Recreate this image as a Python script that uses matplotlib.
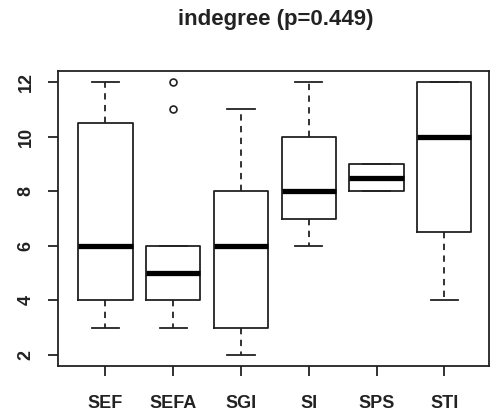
import matplotlib
matplotlib.use("Agg")
import matplotlib.pyplot as plt

plt.rcParams["font.family"] = ["Liberation Sans", "DejaVu Sans"]

groups = ["SEF", "SEFA", "SGI", "SI", "SPS", "STI"]
whisker_low = [3, 3, 2, 6, 8, 4]
q1 = [4, 4, 3, 7, 8, 6.5]
medians = [6, 5, 6, 8, 8.5, 10]
q3 = [10.5, 6, 8, 10, 9, 12]
whisker_high = [12, 6, 11, 12, 9, 12]
outliers = [[], [11, 12], [], [], [], []]
y_ticks = [2, 4, 6, 8, 10, 12]

stats = []
for i, g in enumerate(groups):
    stats.append({
        "label": g,
        "whislo": whisker_low[i],
        "q1": q1[i],
        "med": medians[i],
        "q3": q3[i],
        "whishi": whisker_high[i],
        "fliers": outliers[i],
    })

fig = plt.figure(figsize=(4.91, 4.16), dpi=100)
ax = fig.add_axes([58 / 491, 1 - 366 / 416, (489 - 58) / 491, (366 - 71) / 416])

ink = "#222222"
ax.bxp(
    stats,
    widths=0.8,
    boxprops=dict(color=ink, linewidth=1.3),
    medianprops=dict(color="black", linewidth=3.8, solid_capstyle="butt"),
    whiskerprops=dict(color=ink, linewidth=1.3, linestyle=(0, (3.5, 3))),
    capprops=dict(color=ink, linewidth=1.3),
    capwidths=0.4,
    flierprops=dict(marker="o", markersize=5, markerfacecolor="none",
                    markeredgecolor=ink, markeredgewidth=1.2),
)

ax.set_xlim(0.3, 6.66)
ax.set_ylim(1.6, 12.4)
ax.set_yticks(y_ticks)
ax.set_yticklabels([str(t) for t in y_ticks], rotation=90, va="center")
ax.set_xticks(range(1, len(groups) + 1))
ax.set_xticklabels(groups)

for s in ax.spines.values():
    s.set_color(ink)
    s.set_linewidth(1.3)
ax.tick_params(axis="both", direction="out", length=7, width=1.3, color=ink,
               labelsize=13, labelcolor=ink)
ax.tick_params(axis="x", pad=14)
ax.tick_params(axis="y", pad=10)
for lab in ax.get_xticklabels() + ax.get_yticklabels():
    lab.set_fontweight("bold")

fig.text(275.5 / 491, 1 - 20 / 416, "indegree (p=0.449)", ha="center", va="center",
         fontsize=16, fontweight="bold", color=ink)

fig.savefig("out.png", dpi=100)
